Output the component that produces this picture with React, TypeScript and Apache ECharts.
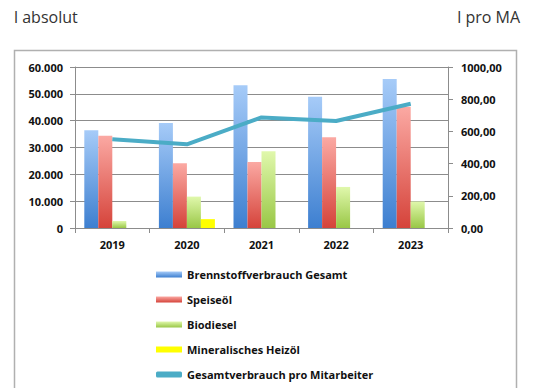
import React, { useEffect, useRef } from "react";
import * as echarts from "echarts";

const years = ["2019", "2020", "2021", "2022", "2023"];
const brennstoff = [36400, 39100, 53200, 48900, 55500];
const speiseoel = [34400, 24100, 24600, 33800, 45200];
const biodiesel = [2600, 11700, 28600, 15300, 9900];
const heizoel = [null, 3300, null, null, null];
const proMitarbeiter = [551, 520, 687, 665, 772];

const leftTicks = [0, 10000, 20000, 30000, 40000, 50000, 60000];
const rightMax = 1000;

function grad(top: string, bottom: string) {
  return new echarts.graphic.LinearGradient(0, 0, 0, 1, [
    { offset: 0, color: top },
    { offset: 1, color: bottom },
  ]);
}

export default function App() {
  const ref = useRef<HTMLDivElement>(null);
  useEffect(() => {
    if (!ref.current) return;
    const chart = echarts.init(ref.current, null, { renderer: "svg" });
    const labelFont = { fontFamily: "Open Sans", fontSize: 11, fontWeight: "bold" as const, color: "#111" };
    chart.setOption({
      animation: false,
      backgroundColor: "#fff",
      graphic: [
        { type: "rect", shape: { x: 14.5, y: 50.5, width: 502, height: 360 }, style: { fill: "none", stroke: "#b0b0b0", lineWidth: 1.5 }, silent: true },
        { type: "text", left: 14, top: 9, style: { text: "l absolut", font: "16px 'Open Sans'", fill: "#333" } },
        { type: "text", right: 16, top: 9, style: { text: "l pro MA", font: "16px 'Open Sans'", fill: "#333" } },
      ],
      grid: { left: 75, right: 88, top: 67, bottom: 160 },
      legend: {
        orient: "vertical",
        left: 151,
        top: 264,
        itemWidth: 26,
        itemHeight: 6,
        itemGap: 14,
        textStyle: { ...labelFont, fontSize: 11 },
        data: [
          { name: "Brennstoffverbrauch Gesamt", icon: "rect" },
          { name: "Speiseöl", icon: "rect" },
          { name: "Biodiesel", icon: "rect" },
          { name: "Mineralisches Heizöl", icon: "rect" },
          { name: "Gesamtverbrauch pro Mitarbeiter", icon: "roundRect" },
        ],
      },
      xAxis: {
        type: "category",
        data: years,
        axisLine: { lineStyle: { color: "#8c8c8c" } },
        axisTick: { show: true, length: 5, lineStyle: { color: "#8c8c8c" } },
        axisLabel: { ...labelFont, margin: 11 },
      },
      yAxis: [
        {
          type: "value",
          min: leftTicks[0],
          max: leftTicks[leftTicks.length - 1],
          interval: 10000,
          axisLine: { show: true, lineStyle: { color: "#8c8c8c" } },
          axisTick: { show: true, length: 5, lineStyle: { color: "#8c8c8c" } },
          splitLine: { lineStyle: { color: "#8c8c8c" } },
          axisLabel: {
            ...labelFont,
            margin: 12,
            formatter: (v: number) => (v === 0 ? "0" : v.toLocaleString("de-DE")),
          },
        },
        {
          type: "value",
          min: 0,
          max: rightMax,
          interval: 200,
          position: "right",
          axisLine: { show: true, lineStyle: { color: "#8c8c8c" } },
          axisTick: { show: true, length: 5, lineStyle: { color: "#8c8c8c" } },
          splitLine: { show: false },
          axisLabel: {
            ...labelFont,
            margin: 13,
            formatter: (v: number) => v.toFixed(2).replace(".", ","),
          },
        },
      ],
      series: [
        {
          name: "Brennstoffverbrauch Gesamt",
          type: "bar",
          data: brennstoff,
          barWidth: 14,
          barGap: "0%",
          itemStyle: { color: grad("#a6cbf8", "#3d7fd0") },
        },
        {
          name: "Speiseöl",
          type: "bar",
          data: speiseoel,
          barWidth: 14,
          barGap: "0%",
          itemStyle: { color: grad("#fba9a3", "#d5433a") },
        },
        {
          name: "Biodiesel",
          type: "bar",
          data: biodiesel,
          barWidth: 14,
          barGap: "0%",
          itemStyle: { color: grad("#e0f8ac", "#99c746") },
        },
        {
          name: "Mineralisches Heizöl",
          type: "bar",
          data: heizoel,
          barWidth: 14,
          barGap: "0%",
          itemStyle: { color: "#ffff00" },
        },
        {
          name: "Gesamtverbrauch pro Mitarbeiter",
          type: "line",
          yAxisIndex: 1,
          data: proMitarbeiter,
          showSymbol: false,
          symbol: "none",
          lineStyle: { color: "#4bacc6", width: 4 },
          itemStyle: { color: "#4bacc6" },
          z: 5,
        },
      ],
    });
    return () => chart.dispose();
  }, []);
  return <div ref={ref} style={{ position: "fixed", left: 0, top: 0, width: 536, height: 388 }} />;
}
